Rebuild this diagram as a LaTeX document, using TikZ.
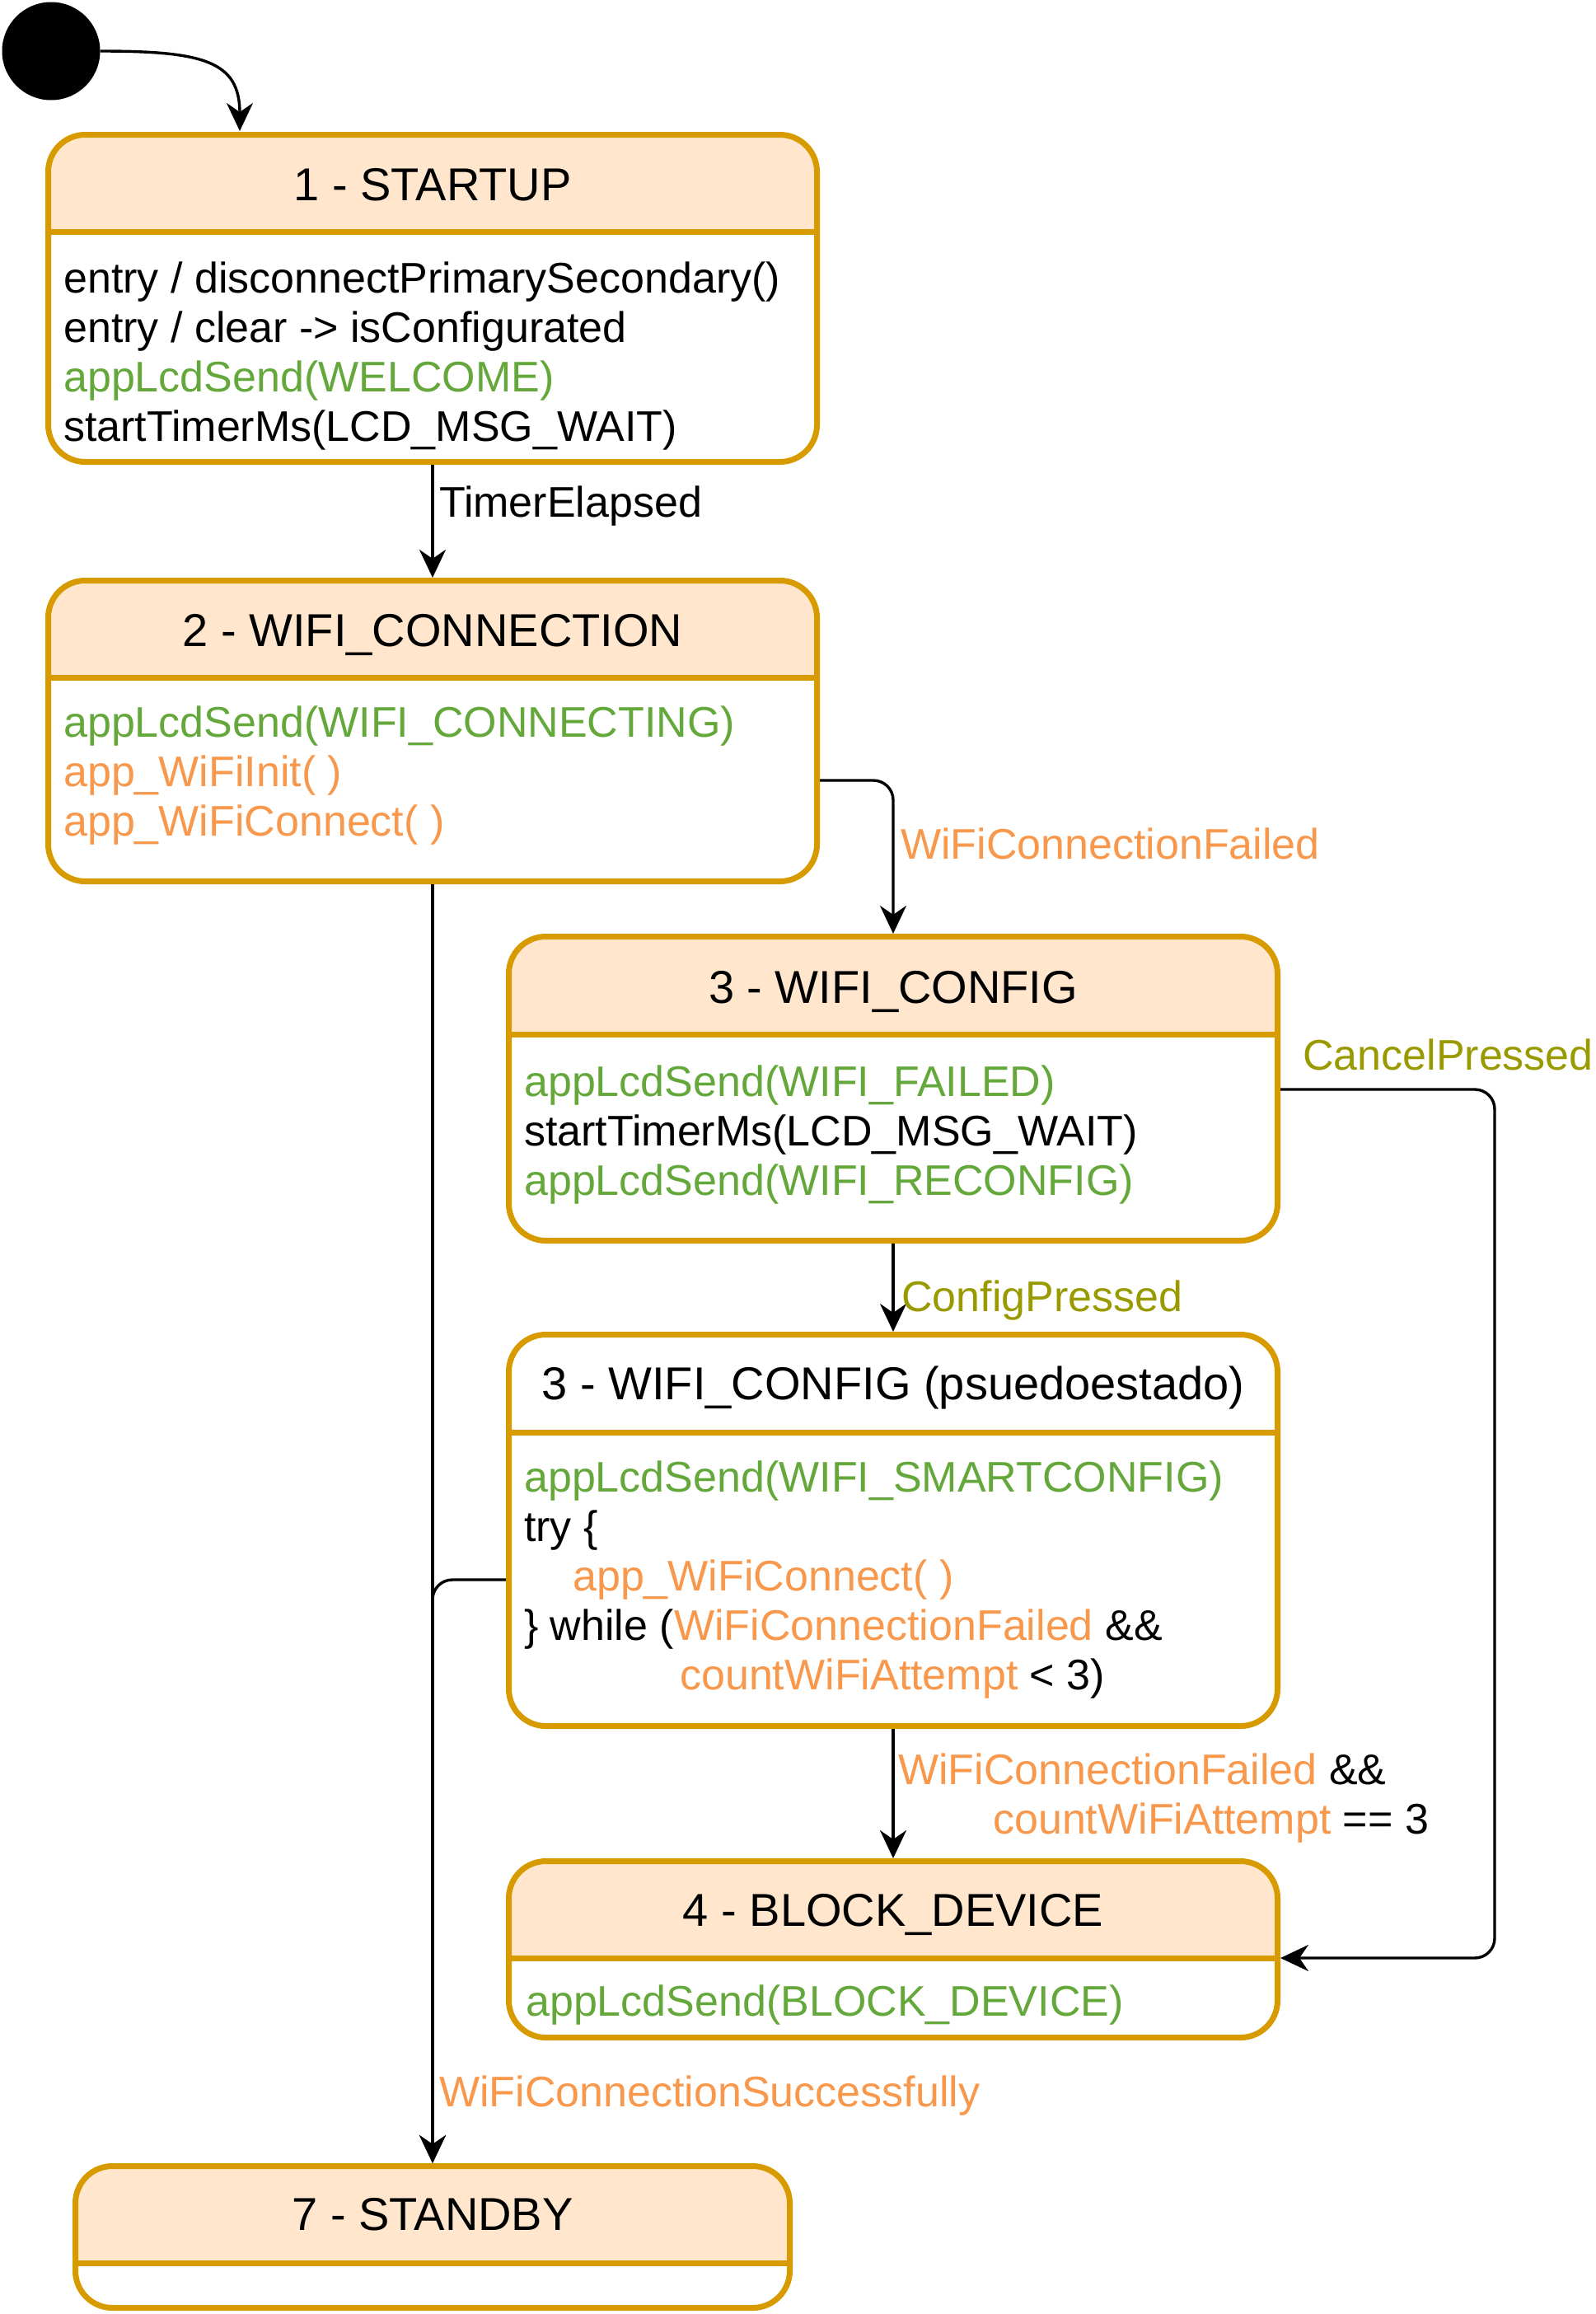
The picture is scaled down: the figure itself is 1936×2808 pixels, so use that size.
\documentclass[tikz,border=0pt]{standalone}
\usepackage{fontspec}
\setmainfont{Liberation Sans}
\usetikzlibrary{arrows.meta}
\definecolor{stborder}{HTML}{D79B00}
\definecolor{sthead}{HTML}{FFE6CC}
\definecolor{txgreen}{HTML}{64A83C}
\definecolor{txorange}{HTML}{F7984C}
\definecolor{txolive}{HTML}{999900}
\newcommand{\grn}[1]{\textcolor{txgreen}{#1}}
\newcommand{\org}[1]{\textcolor{txorange}{#1}}
\newcommand{\olv}[1]{\textcolor{txolive}{#1}}
\begin{document}
\begin{tikzpicture}[x=1pt,y=-1pt,
  every node/.style={font=\fontsize{52}{60}\selectfont},
  stbox/.style={draw=stborder,line width=7pt,rounded corners=45pt,inner sep=0pt},
  stsep/.style={draw=stborder,line width=7pt},
  sttitle/.style={anchor=base,inner sep=0pt,font=\fontsize{56}{64}\selectfont},
  stbody/.style={anchor=base west,align=left,inner sep=0pt},
  edgelbl/.style={anchor=base west,inner sep=0pt},
  conn/.style={draw=black,line width=3.4pt,rounded corners=24pt,-{Stealth[length=34pt,width=32pt,inset=11pt]}}
]
\useasboundingbox (0,0) rectangle (1936,2808);

% ---------- initial state
\node[circle,fill=black,minimum size=119pt,inner sep=0pt] (init) at (62,62) {};

% ---------- 1 - STARTUP
\fill[sthead] (58.5,281) [rounded corners=45pt]-- (58.5,163.5) -- (991.5,163.5) [sharp corners]-- (991.5,281) -- cycle;
\node[stbox,minimum width=933pt,minimum height=397pt] (s1) at (525,362) {};
\draw[stsep] (s1.west |- 0,281) -- (s1.east |- 0,281);
\node[sttitle] (t1) at (525,243) {1 - STARTUP};
\node[stbody] (b1) at (77,535) {entry / disconnectPrimarySecondary()\\entry / clear -> isConfigurated\\\grn{appLcdSend(WELCOME)}\\startTimerMs(LCD\_MSG\_WAIT)};

% ---------- 2 - WIFI_CONNECTION
\fill[sthead] (58.5,822) [rounded corners=45pt]-- (58.5,704.5) -- (991.5,704.5) [sharp corners]-- (991.5,822) -- cycle;
\node[stbox,minimum width=933pt,minimum height=365pt] (s2) at (525,887) {};
\draw[stsep] (s2.west |- 0,822) -- (s2.east |- 0,822);
\node[sttitle] (t2) at (525,784) {2 - WIFI\_CONNECTION};
\node[stbody] (b2) at (77,1014) {\grn{appLcdSend(WIFI\_CONNECTING)}\\\org{app\_WiFiInit( )}\\\org{app\_WiFiConnect( )}};

% ---------- 3 - WIFI_CONFIG
\fill[sthead] (617.5,1255) [rounded corners=45pt]-- (617.5,1136.5) -- (1550.5,1136.5) [sharp corners]-- (1550.5,1255) -- cycle;
\node[stbox,minimum width=933pt,minimum height=369pt] (s3) at (1084,1321) {};
\draw[stsep] (s3.west |- 0,1255) -- (s3.east |- 0,1255);
\node[sttitle] (t3) at (1084,1217) {3 - WIFI\_CONFIG};
\node[stbody] (b3) at (636,1450) {\grn{appLcdSend(WIFI\_FAILED)}\\startTimerMs(LCD\_MSG\_WAIT)\\\grn{appLcdSend(WIFI\_RECONFIG)}};

% ---------- 3 - WIFI_CONFIG (psuedoestado)
\node[stbox,minimum width=933pt,minimum height=475pt] (s3b) at (1084,1857) {};
\draw[stsep] (s3b.west |- 0,1738) -- (s3b.east |- 0,1738);
\node[sttitle] (t3b) at (1084,1698) {3 - WIFI\_CONFIG (psuedoestado)};
\node[stbody] (b3b) at (636,2050) {\grn{appLcdSend(WIFI\_SMARTCONFIG)}\\try \{\\\hspace*{59pt}\org{app\_WiFiConnect( )}\\\} while (\org{WiFiConnectionFailed} \&\&\\\hspace*{189pt}\org{countWiFiAttempt} < 3)};

% ---------- 4 - BLOCK_DEVICE
\fill[sthead] (617.5,2376) [rounded corners=45pt]-- (617.5,2258.5) -- (1550.5,2258.5) [sharp corners]-- (1550.5,2376) -- cycle;
\node[stbox,minimum width=933pt,minimum height=214pt] (s4) at (1084,2365.5) {};
\draw[stsep] (s4.west |- 0,2376) -- (s4.east |- 0,2376);
\node[sttitle] (t4) at (1084,2337) {4 - BLOCK\_DEVICE};
\node[stbody] (b4) at (638,2446) {\grn{appLcdSend(BLOCK\_DEVICE)}};

% ---------- 7 - STANDBY
\fill[sthead] (91.5,2746) [rounded corners=45pt]-- (91.5,2628.5) -- (958.5,2628.5) [sharp corners]-- (958.5,2746) -- cycle;
\node[stbox,minimum width=867pt,minimum height=172pt] (s7) at (525,2714.5) {};
\draw[stsep] (s7.west |- 0,2746) -- (s7.east |- 0,2746);
\node[sttitle] (t7) at (525,2706) {7 - STANDBY};

% ---------- connectors
\coordinate (e1) at (291,159);
\draw[conn] (init.east) .. controls +(125,0) and +(0,-85) .. (e1);

\draw[conn] (s1.south) -- (s2.north);
\node[edgelbl] (l1) at (533,627) {TimerElapsed};

\draw[conn] (s2.east |- 0,947) -| (s3.north);
\node[edgelbl] (l2) at (1093,1042) {\org{WiFiConnectionFailed}};

\draw[conn] (s3.east |- 0,1322) -| (1814,2376) -- (s4.east |- 0,2376);
\node[edgelbl] (l3) at (1581,1298) {\olv{CancelPressed}};

\draw[conn] (s3.south) -- (s3b.north);
\node[edgelbl] (l4) at (1094,1591) {\olv{ConfigPressed}};

\draw[conn] (s3b.south) -- (s4.north);
\node[edgelbl,align=left] (l5) at (1090,2225) {\org{WiFiConnectionFailed} \&\&\\\hspace*{115pt}\org{countWiFiAttempt} == 3};

\draw[conn] (s2.south) -- (s7.north);
\draw[conn] (s3b.west |- 0,1917) -| (s7.north);
\node[edgelbl] (l6) at (533,2556) {\org{WiFiConnectionSuccessfully}};
\end{tikzpicture}
\end{document}
